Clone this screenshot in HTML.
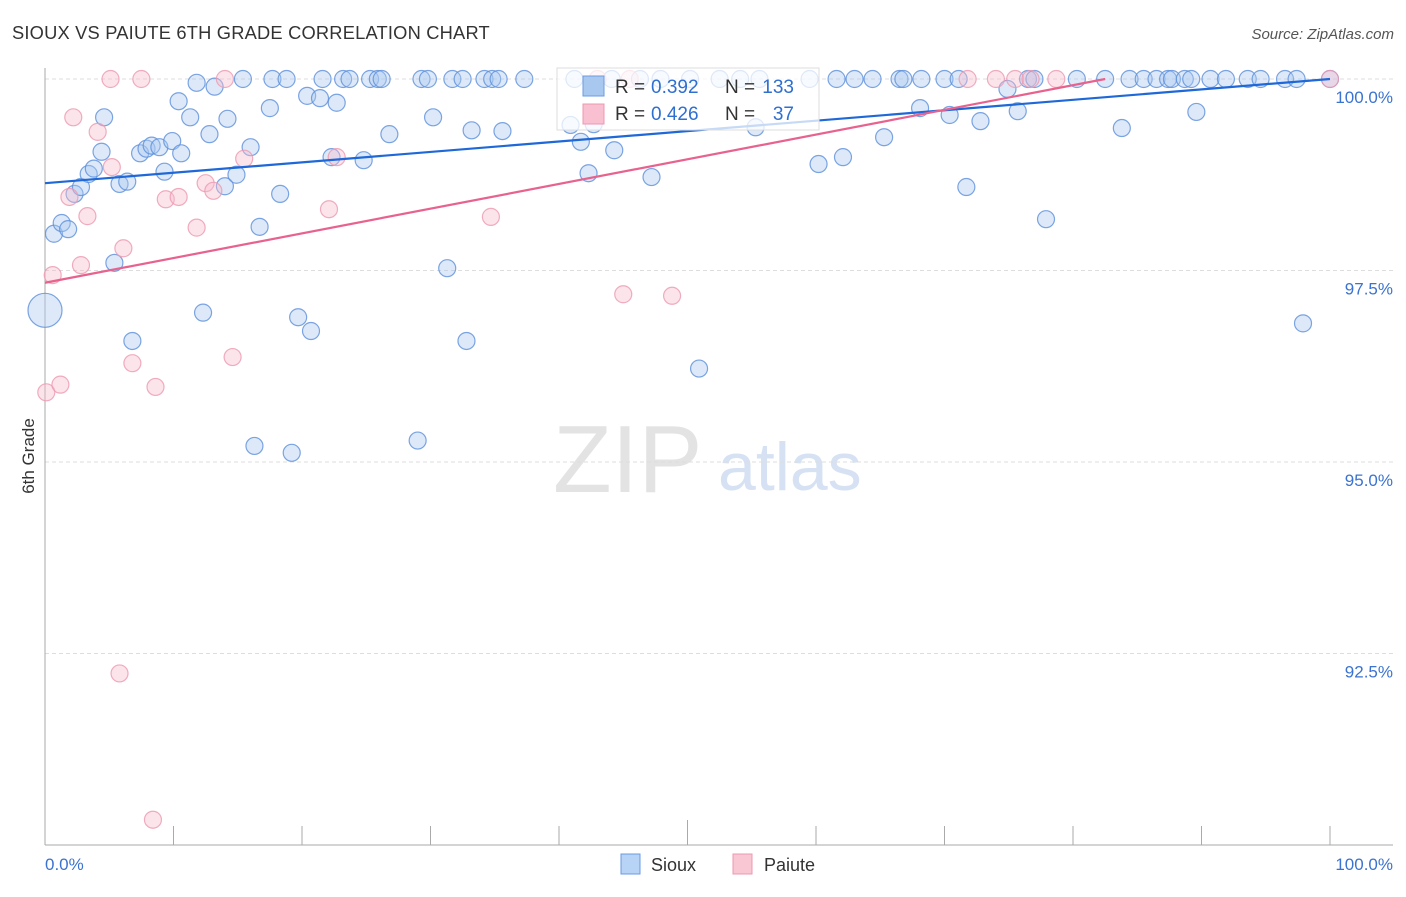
<!DOCTYPE html>
<html><head><meta charset="utf-8">
<style>
body{margin:0;background:#fff;font-family:"Liberation Sans",sans-serif;}
svg text{font-family:"Liberation Sans",sans-serif;}
</style></head>
<body>
<svg id="chart" width="1406" height="892" xmlns="http://www.w3.org/2000/svg">
<text x="12" y="39" font-size="18.3" fill="#333" letter-spacing="0.2">SIOUX VS PAIUTE 6TH GRADE CORRELATION CHART</text>
<text x="1394" y="39" font-size="15" fill="#555" font-style="italic" text-anchor="end">Source: ZipAtlas.com</text>
<text x="34" y="456" font-size="17" fill="#333" text-anchor="middle" transform="rotate(-90 34 456)">6th Grade</text>
<g>
<text x="553" y="492" font-size="96" font-family="Liberation Serif" fill="#e3e3e3">ZIP</text>
<text x="718" y="490" font-size="68" fill="#d6e2f3">atlas</text>
</g>
<g id="grid"></g>
<g id="axes"></g>
<g id="pts"></g>
<g id="lines"></g>
<g>
<rect x="557" y="68" width="262" height="62" fill="#fff" fill-opacity="0.75" stroke="#ddd"/>
<rect x="583" y="76" width="21" height="20" fill="#a9c8f0" stroke="#6a9be0"/>
<rect x="583" y="104" width="21" height="20" fill="#f8c0d0" stroke="#ec98b0"/>
<text x="615" y="93" font-size="19" fill="#333">R =</text>
<text x="651" y="93" font-size="19" fill="#2f6fd0">0.392</text>
<text x="725" y="93" font-size="19" fill="#333">N =</text>
<text x="794" y="93" font-size="19" fill="#2f6fd0" text-anchor="end">133</text>
<text x="615" y="120" font-size="19" fill="#333">R =</text>
<text x="651" y="120" font-size="19" fill="#2f6fd0">0.426</text>
<text x="725" y="120" font-size="19" fill="#333">N =</text>
<text x="794" y="120" font-size="19" fill="#2f6fd0" text-anchor="end">37</text>
</g>
<g>
<rect x="621" y="854" width="19" height="20" fill="#b7d3f6" stroke="#6a9be0"/>
<text x="651" y="871" font-size="18" fill="#333">Sioux</text>
<rect x="733" y="854" width="19" height="20" fill="#f9c6d4" stroke="#ec98b0"/>
<text x="764" y="871" font-size="18" fill="#333">Paiute</text>
</g>
</svg>
<script>
const xTickVals=[0,10,20,30,40,50,60,70,80,90,100];
const yTickVals=[100,97.5,95,92.5];
const yTickLabels=["100.0%","97.5%","95.0%","92.5%"];
const xEndLabels=["0.0%","100.0%"];
const siouxX=[0.7,1.3,1.8,2.3,2.8,3.4,3.8,4.4,4.6,5.4,5.8,6.4,6.8,7.4,7.9,8.3,8.9,9.3,9.9,10.4,10.6,11.3,11.8,12.3,12.8,13.2,14.0,14.2,14.9,15.4,16.0,16.3,16.7,17.5,17.7,18.3,18.8,19.2,19.7,20.4,20.7,21.4,21.6,22.7,23.2,23.7,22.3,24.8,25.3,25.9,26.2,26.8,29.0,29.3,29.8,30.2,31.3,31.7,32.5,32.8,33.2,34.2,34.8,35.3,35.6,37.3,40.9,41.7,42.3,42.7,44.3,47.2,50.9,54.1,55.3,60.2,61.6,62.1,63.0,64.4,65.3,66.5,66.8,68.1,68.2,70.0,70.4,71.1,71.7,72.8,74.9,75.7,76.5,77.0,77.9,80.3,82.5,83.8,84.4,85.5,86.5,87.4,87.7,88.7,89.2,89.6,90.7,91.9,93.6,94.6,96.5,97.4,97.9,100,44.1,46.3,50.2,55.6,41.2,47.9,52.5,59.5];
const siouxY=[97.98,98.12,98.04,98.50,98.59,98.76,98.83,99.05,99.50,97.60,98.63,98.66,96.58,99.03,99.09,99.13,99.11,98.79,99.19,99.71,99.03,99.50,99.95,96.95,99.28,99.90,98.60,99.48,98.75,100,99.11,95.21,98.07,99.62,100,98.50,100,95.12,96.89,99.78,96.71,99.75,100,99.69,100,100,98.98,98.94,100,100,100,99.28,95.28,100,100,99.50,97.53,100,100,96.58,99.33,100,100,100,99.32,100,99.40,99.18,98.77,99.41,99.07,98.72,96.22,100,99.37,98.89,100,98.98,100,100,99.24,100,100,99.62,100,100,99.53,100,98.59,99.45,99.87,99.58,100,100,98.17,100,100,99.36,100,100,100,100,100,100,100,99.57,100,100,100,100,100,100,96.81,100,100,100,100,100,100,100,100,100];
const siouxBigX=[0]; const siouxBigY=[96.98];
const paiuteX=[0.1,0.6,1.2,2.2,1.9,2.8,3.3,4.1,5.1,5.2,5.8,6.1,6.8,7.5,8.4,8.6,9.4,10.4,11.8,12.5,13.1,14.0,14.6,15.5,22.1,22.7,34.7,45.0,48.8,43.0,45.5,71.8,74.0,75.5,76.7,78.7,100];
const paiuteY=[95.91,97.44,96.01,99.50,98.46,97.57,98.21,99.31,100,98.85,92.24,97.79,96.29,100,90.33,95.98,98.43,98.46,98.06,98.64,98.54,100,96.37,98.96,98.30,98.98,98.20,97.19,97.17,100,100,100,100,100,100,100,100];
const siouxTrendX=[0,100]; const siouxTrendY=[98.64,100];
const paiuteTrendX=[0,82.5]; const paiuteTrendY=[97.34,100];

const X0=45,X1=1330,YTOP=79,PXPER=76.6;
const sx=v=>X0+(X1-X0)*v/100;
const sy=v=>YTOP+(100-v)*PXPER;
const NS="http://www.w3.org/2000/svg";
function mk(tag,attrs,parent){const e=document.createElementNS(NS,tag);for(const k in attrs)e.setAttribute(k,attrs[k]);parent.appendChild(e);return e;}
const grid=document.getElementById('grid'),axes=document.getElementById('axes'),pts=document.getElementById('pts'),lines=document.getElementById('lines');
yTickVals.forEach((v,i)=>{
 const l=mk('line',{x1:45,x2:1393,y1:sy(v),y2:sy(v),stroke:'#ddd','stroke-dasharray':'4,3'},grid);
 
 
 const t=mk('text',{x:1393,y:sy(v)+24,'font-size':17,fill:'#3b73d0','text-anchor':'end'},axes);
 t.textContent=yTickLabels[i];
 
 
});
const ya=mk('line',{x1:45,x2:45,y1:68,y2:845,stroke:'#aaa'},axes);


const xa=mk('line',{x1:45,x2:1393,y1:845,y2:845,stroke:'#aaa'},axes);


xTickVals.forEach(v=>{
 const t=mk('line',{x1:sx(v),x2:sx(v),y1:v===50?820:826,y2:845,stroke:'#aaa'},axes);
 
 
});
const xl0=mk('text',{x:45,y:870,'font-size':17,fill:'#3b73d0'},axes);xl0.textContent=xEndLabels[0];


const xl1=mk('text',{x:1393,y:870,'font-size':17,fill:'#3b73d0','text-anchor':'end'},axes);xl1.textContent=xEndLabels[1];


function dots(xs,ys,r,fill,stroke,name){xs.forEach((x,i)=>{
 const c=mk('circle',{cx:sx(x),cy:sy(ys[i]),r:r,fill:fill,'fill-opacity':0.4,stroke:stroke,'stroke-width':1.2,'stroke-opacity':0.8},pts);
 
 
});}
dots(siouxX,siouxY,8.5,'#a9c8f0','#5b8fdb','sioux-point');
dots(siouxBigX,siouxBigY,17,'#a9c8f0','#5b8fdb','sioux-point');
dots(paiuteX,paiuteY,8.5,'#f8bccd','#ec98b0','paiute-point');
const l1=mk('line',{x1:sx(siouxTrendX[0]),y1:sy(siouxTrendY[0]),x2:sx(siouxTrendX[1]),y2:sy(siouxTrendY[1]),stroke:'#1f68d8','stroke-width':2.2},lines);


const l2=mk('line',{x1:sx(paiuteTrendX[0]),y1:sy(paiuteTrendY[0]),x2:sx(paiuteTrendX[1]),y2:sy(paiuteTrendY[1]),stroke:'#e8628e','stroke-width':2.2},lines);


</script>
</body></html>
